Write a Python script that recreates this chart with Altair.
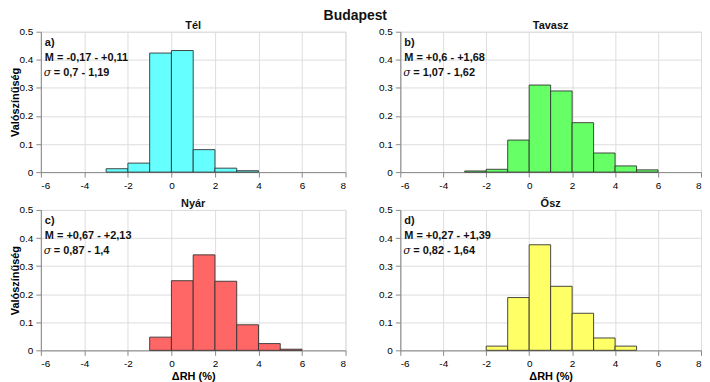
import altair as alt
import pandas as pd

FONT = "Liberation Sans"

bin_lo = [-4, -3, -2, -1, 0, 1, 2, 3, 4, 5]
bin_hi = [-3, -2, -1, 0, 1, 2, 3, 4, 5, 6]

tel = [0.0, 0.012, 0.032, 0.424, 0.433, 0.080, 0.014, 0.005, 0.0, 0.0]
tavasz = [0.0, 0.004, 0.010, 0.114, 0.310, 0.289, 0.176, 0.068, 0.022, 0.008]
nyar = [0.0, 0.0, 0.0, 0.047, 0.248, 0.340, 0.246, 0.091, 0.024, 0.004]
osz = [0.0, 0.0, 0.015, 0.188, 0.376, 0.228, 0.132, 0.044, 0.015, 0.0]

names = ["Tél", "Tavasz", "Nyár", "Ősz"]
letters = ["a)", "b)", "c)", "d)"]
m_text = ["M = -0,17 - +0,11", "M = +0,6 - +1,68", "M = +0,67 - +2,13", "M = +0,27 - +1,39"]
s_text = ["= 0,7 - 1,19", "= 1,07 - 1,62", "= 0,87 - 1,4", "= 0,82 - 1,64"]
colors = ["#66FFFF", "#66FF66", "#FF6666", "#FFFF66"]

x_ticks = [-6, -4, -2, 0, 2, 4, 6, 8]
y_ticks = [0, 0.1, 0.2, 0.3, 0.4, 0.5]

WL, WR, H = 306, 302, 141


def panel(i, values, show_y, show_x, W):
    df = pd.DataFrame({"lo": bin_lo, "hi": bin_hi, "p": values})
    df = df[df["p"] > 0]
    xaxis = alt.Axis(values=x_ticks, labelExpr="'' + datum.value",
                     title="ΔRH (%)" if show_x else None, labelPadding=3, titlePadding=2)
    yaxis = alt.Axis(values=y_ticks, labelExpr="'' + datum.value",
                     title="Valószínűség" if show_y else None, labelPadding=3, titlePadding=-1)
    bars = alt.Chart(df).mark_bar(
        fill=colors[i], stroke="#333333", strokeWidth=0.9, opacity=1
    ).encode(
        x=alt.X("lo:Q", scale=alt.Scale(domain=[-6, 8], nice=False), axis=xaxis),
        x2="hi:Q",
        y=alt.Y("p:Q", scale=alt.Scale(domain=[0, 0.5], nice=False), axis=yaxis),
        y2=alt.datum(0),
    )
    base_txt = dict(align="left", baseline="middle", font=FONT, fontWeight="bold",
                    fontSize=11, color="#111111")
    t1 = alt.Chart(pd.DataFrame({"t": [letters[i]]})).mark_text(**base_txt).encode(
        text="t:N", x=alt.value(4), y=alt.value(11))
    t2 = alt.Chart(pd.DataFrame({"t": [m_text[i]]})).mark_text(**base_txt).encode(
        text="t:N", x=alt.value(4), y=alt.value(26))
    sig = alt.Chart(pd.DataFrame({"t": ["σ"]})).mark_text(
        align="left", baseline="middle", font="DejaVu Serif", fontStyle="italic",
        fontSize=11, color="#111111").encode(
        text="t:N", x=alt.value(3), y=alt.value(41))
    t3 = alt.Chart(pd.DataFrame({"t": [s_text[i]]})).mark_text(**base_txt).encode(
        text="t:N", x=alt.value(13), y=alt.value(41))
    return alt.layer(bars, t1, t2, sig, t3).properties(
        width=W, height=H,
        title=alt.TitleParams(names[i], fontSize=11, font=FONT, fontWeight="bold",
                              color="#111111", offset=-4),
    )


top = alt.hconcat(panel(0, tel, True, False, WL), panel(1, tavasz, False, False, WR), spacing=31)
bot = alt.hconcat(panel(2, nyar, True, True, WL), panel(3, osz, False, True, WR), spacing=31)

chart = alt.vconcat(top, bot, spacing=6).properties(
    title=alt.TitleParams("Budapest", fontSize=14, font=FONT, fontWeight="bold",
                          color="#111111", anchor="middle", offset=-4),
    padding={"left": 0, "top": 0, "right": 0, "bottom": 0},
).configure_axis(
    labelFont=FONT, labelFontWeight="bold", labelFontSize=10.5, labelColor="#262626",
    titleFont=FONT, titleFontWeight="bold", titleFontSize=11.5, titleColor="#262626",
    gridColor="#dcdcdc", gridWidth=1, domainColor="#262626", domainWidth=1,
    ticks=False,
).configure_axisY(titleFontSize=11).configure_view(
    stroke="#8a8a8a", strokeWidth=1,
).configure(background="white")

chart.save("out.html", embed_options={"renderer": "svg", "actions": False})
